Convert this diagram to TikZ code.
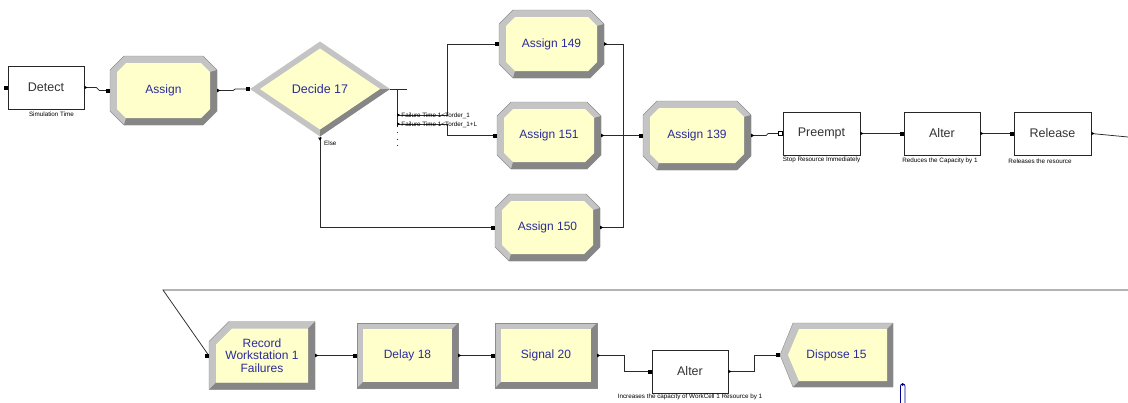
\documentclass[tikz,border=0pt]{standalone}
\usepackage{fontspec}
\setmainfont{Liberation Sans}
\usetikzlibrary{calc}
\definecolor{bvl}{HTML}{C4C4C4}
\definecolor{bvd}{HTML}{868686}
\definecolor{ylw}{HTML}{FFFFCC}
\definecolor{modblue}{HTML}{2B2B9B}
\definecolor{ln}{HTML}{2A2A2A}
\tikzset{
 modlabel/.style={inner sep=0pt, text=modblue, font=\fontsize{12}{12.5}\selectfont, align=center},
 boxmod/.style={draw=black!85, line width=0.7pt, fill=white, inner sep=0pt, text=black!80, font=\fontsize{12.5}{13}\selectfont},
 conn/.style={draw=ln, line width=0.75pt},
 note/.style={font=\fontsize{6.3}{7}\selectfont, inner sep=0pt, text=black},
 edgeline/.style={draw=black!45, line width=0.4pt},
}
% octagon module: name, cx, cy, half width, half height, text
\newcommand\octmod[6]{%
\begin{scope}[shift={(#2,#3)}]
\fill[bvl] (-#4+14,-#5)--(#4-14,-#5)--(#4,-#5+14)--(#4,#5-14)--(#4-14,#5)--(-#4+14,#5)--(-#4,#5-14)--(-#4,-#5+14)--cycle;
\fill[bvd] (#4,-#5+14)--(#4,#5-14)--(#4-14,#5)--(-#4+14,#5)--(-#4+16,#5-7)--(#4-16,#5-7)--(#4-7,#5-16)--(#4-7,-#5+16)--cycle;
\fill[ylw] (-#4+16,-#5+7)--(#4-16,-#5+7)--(#4-7,-#5+16)--(#4-7,#5-16)--(#4-16,#5-7)--(-#4+16,#5-7)--(-#4+7,#5-16)--(-#4+7,-#5+16)--cycle;
\draw[edgeline] (-#4+14,-#5)--(#4-14,-#5)--(#4,-#5+14)--(#4,#5-14)--(#4-14,#5)--(-#4+14,#5)--(-#4,#5-14)--(-#4,-#5+14)--cycle;
\end{scope}
\node[modlabel, minimum width=2*#4, minimum height=2*#5] (#1) at (#2,#3) {#6};}
% diamond module
\newcommand\diamod[6]{%
\begin{scope}[shift={(#2,#3)}]
\fill[bvl] (-#4,0)--(0,-#5)--(#4,0)--(0,#5)--cycle;
\fill[bvd] (#4,0)--(0,#5)--(0,#5-7)--(#4-10,0)--cycle;
\fill[ylw] (-#4+10,0)--(0,-#5+7)--(#4-10,0)--(0,#5-7)--cycle;
\end{scope}
\node[modlabel, font=\fontsize{12.5}{13}\selectfont, minimum width=2*#4, minimum height=2*#5] (#1) at (#2,#3) {#6};}
% record module (top-left chamfer)
\newcommand\recmod[6]{%
\begin{scope}[shift={(#2,#3)}]
\fill[bvl] (-#4+20,-#5)--(#4,-#5)--(#4,#5)--(-#4,#5)--(-#4,-#5+20)--cycle;
\fill[bvd] (#4,-#5)--(#4,#5)--(-#4,#5)--(-#4+7,#5-7)--(#4-7,#5-7)--(#4-7,-#5+7)--cycle;
\fill[ylw] (-#4+23,-#5+7)--(#4-7,-#5+7)--(#4-7,#5-7)--(-#4+7,#5-7)--(-#4+7,-#5+23)--cycle;
\draw[edgeline] (-#4+20,-#5)--(#4,-#5)--(#4,#5)--(-#4,#5)--(-#4,-#5+20)--cycle;
\end{scope}
\node[modlabel, minimum width=2*#4, minimum height=2*#5] (#1) at (#2,#3) {#6};}
% plain bevelled rectangle module
\newcommand\rectmod[6]{%
\begin{scope}[shift={(#2,#3)}]
\fill[bvl] (-#4,-#5) rectangle (#4,#5);
\fill[bvd] (#4,-#5)--(#4,#5)--(-#4,#5)--(-#4+6,#5-6)--(#4-6,#5-6)--(#4-6,-#5+6)--cycle;
\fill[ylw] (-#4+6,-#5+6) rectangle (#4-6,#5-6);
\draw[edgeline] (-#4,-#5) rectangle (#4,#5);
\end{scope}
\node[modlabel, minimum width=2*#4, minimum height=2*#5] (#1) at (#2,#3) {#6};}
% dispose module (left point)
\newcommand\dismod[6]{%
\begin{scope}[shift={(#2,#3)}]
\fill[bvl] (-#4,0)--(-#4+13,-#5)--(#4,-#5)--(#4,#5)--(-#4+13,#5)--cycle;
\fill[bvd] (#4,-#5)--(#4,#5)--(-#4+13,#5)--(-#4+19,#5-6)--(#4-6,#5-6)--(#4-6,-#5+6)--cycle;
\fill[ylw] (-#4+8,0)--(-#4+19,-#5+6)--(#4-6,-#5+6)--(#4-6,#5-6)--(-#4+19,#5-6)--cycle;
\draw[edgeline] (-#4,0)--(-#4+13,-#5)--(#4,-#5)--(#4,#5)--(-#4+13,#5)--cycle;
\end{scope}
\node[modlabel, minimum width=2*#4, minimum height=2*#5] (#1) at (#2,#3) {#6};}
\newcommand\entrysq[1]{\fill[black] ($(#1)+(-4,-2)$) rectangle ($(#1)+(0,2)$);}
\newcommand\entryho[1]{\filldraw[fill=white, draw=black, line width=0.5pt] ($(#1)+(-4,-2)$) rectangle ($(#1)+(0,2)$);}
\newcommand\exitm[1]{\fill[black] ($(#1)+(0,-1.8)$) -- ($(#1)+(3,0)$) -- ($(#1)+(0,1.8)$) -- cycle;}
\begin{document}
\begin{tikzpicture}[x=1pt,y=-1pt]
\useasboundingbox (0,0) rectangle (1128,402);
\fill[white] (0,0) rectangle (1128,402);

% ---------- row 1 ----------
\node[boxmod, minimum width=76, minimum height=43] (det) at (46,87.5) {Detect};
\node[note] (detn) at (51.5,114) {Simulation Time};
\octmod{asg}{163.5}{90.5}{53.5}{34.5}{Assign}
\diamod{d17}{320}{89}{70}{47.5}{Decide 17}
\octmod{a149}{551.5}{44}{52.5}{34}{Assign 149}
\octmod{a151}{549}{135.5}{52}{33.5}{Assign 151}
\octmod{a150}{547.5}{227.5}{52.5}{33.5}{Assign 150}
\octmod{a139}{697}{135.5}{54}{34.5}{Assign 139}
\node[boxmod, minimum width=77, minimum height=43] (pre) at (821.5,133.5) {Preempt};
\node[note] (pren) at (821.5,160) {Stop Resource Immediately};
\node[boxmod, minimum width=76, minimum height=43] (alt) at (942,133.5) {Alter};
\node[note] (altn) at (940,161) {Reduces the Capacity by 1};
\node[boxmod, minimum width=77, minimum height=43] (rel) at (1052.5,133.5) {Release};
\node[note] (reln) at (1040,161) {Releases the resource};

% ---------- row 2 ----------
\recmod{rec}{262}{355.5}{53}{34}{Record\\Workstation 1\\Failures}
\rectmod{del}{407.5}{355.5}{50.5}{32.5}{Delay 18}
\rectmod{sig}{546}{355.5}{51}{32.5}{Signal 20}
\node[boxmod, minimum width=76, minimum height=43] (alt2) at (690,371.5) {Alter};
\node[note] (alt2n) at (690,397) {Increases the capacity of WorkCell 1 Resource by 1};
\dismod{dis}{836.5}{355}{56.5}{32}{Dispose 15}

% ---------- connectors row 1 ----------
\draw[conn] (det.east) -- ++(12,0) -- ++(3,3) -- (asg.west);
\draw[conn] (asg.east) -- ++(16,0) -- ++(2,-1.5) -- (d17.west);
\draw[conn] (d17.east) -- ++(17,0);
\coordinate (bus) at ($(d17.east)+(7,0)$);
\draw[conn] (bus) -- ++(0,38);
\draw[conn, line width=0.6pt, dash pattern=on 1pt off 5.5pt] ($(bus)+(0,43)$) -- ++(0,19);
\coordinate (b1) at ($(bus)+(0,26)$);
\coordinate (b2) at ($(bus)+(0,35)$);
\draw[conn] (b1) -- ++(50,0) |- (a149.west);
\draw[conn] (b2) -- ++(50,0) |- (a151.west);
\fill[black] ($(b1)+(0,-1.6)$) -- ($(b1)+(3,0)$) -- ($(b1)+(0,1.6)$) -- cycle;
\fill[black] ($(b2)+(0,-1.6)$) -- ($(b2)+(3,0)$) -- ($(b2)+(0,1.6)$) -- cycle;
\node[note, anchor=west] (c1) at ($(b1)+(4,0.5)$) {Failure Time 1<Torder\_1};
\node[note, anchor=west] (c2) at ($(b2)+(4,0.5)$) {Failure Time 1<Torder\_1+L};
\draw[conn] (d17.south) |- (a150.west);
\fill[black] ($(d17.south)+(-1.8,1)$) -- ($(d17.south)+(1.8,1)$) -- ($(d17.south)+(0,4)$) -- cycle;
\node[note, anchor=west] (elsen) at ($(d17.south)+(4,7)$) {Else};

\coordinate (mrg) at (623,135.5);
\draw[conn] (a149.east) -| (mrg);
\draw[conn] (a150.east) -| (mrg);
\draw[conn] (a151.east) -- (a139.west);
\draw[conn] (a139.east) -- ++(15,0) -- ++(2,-2) -- (pre.west);
\draw[conn] (pre.east) -- (alt.west);
\draw[conn] (alt.east) -- (rel.west);
\coordinate (out1) at (1128,137);
\draw[conn] (rel.east) -- (out1);

% ---------- connectors row 2 ----------
\coordinate (in2) at (1128,290);
\coordinate (turn) at (163,290);
\draw[conn] (in2) -- (turn) -- (rec.west);
\draw[conn] (rec.east) -- (del.west);
\draw[conn] (del.east) -- (sig.west);
\draw[conn] (sig.east) -- ++(27,0) |- (alt2.west);
\draw[conn] (alt2.east) -- ++(26,0) |- (dis.west);

% ---------- port markers ----------
\entrysq{det.west}
\foreach \n in {asg.west,d17.west,a149.west,a151.west,a150.west,a139.west,alt.west,rel.west,rec.west,del.west,sig.west,alt2.west,dis.west}{\entrysq{\n}}
\entryho{pre.west}
\foreach \n in {det.east,asg.east,a149.east,a151.east,a150.east,a139.east,pre.east,alt.east,rel.east,rec.east,del.east,sig.east,alt2.east}{\exitm{\n}}

% small blue marker at the bottom
\draw[blue!60!black, line width=0.8pt, rounded corners=2pt] (900.5,404) -- (900.5,384) -- (905,384) -- (905,404);
\fill[blue!45!black] (902.7,384.5) circle (1.5);
\end{tikzpicture}
\end{document}
